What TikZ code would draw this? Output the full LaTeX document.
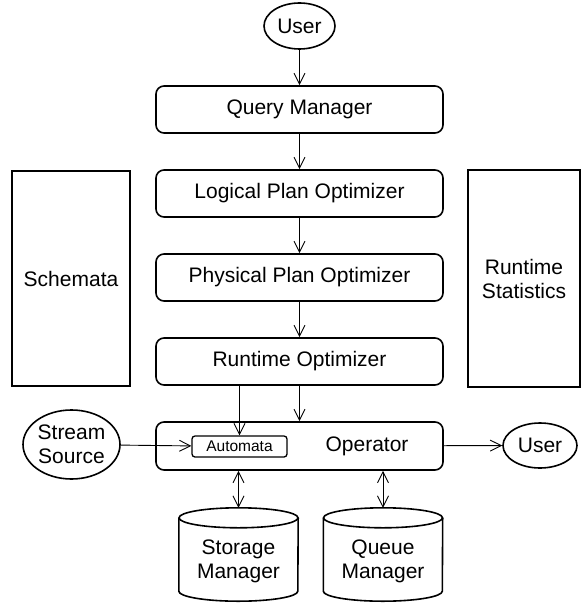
\documentclass[tikz,border=0pt]{standalone}
\usepackage{fontspec}
\setmainfont{Liberation Sans}
\usetikzlibrary{arrows.meta,shapes.geometric}

\tikzset{
  every node/.style={font=\fontsize{21}{24}\selectfont, align=center},
  stage/.style={draw, line width=1.6pt, rounded corners=8pt, minimum width=287pt, inner sep=0pt},
  store/.style={draw, line width=1.6pt, inner sep=0pt},
  actor/.style={draw, ellipse, line width=1.6pt, inner sep=0pt},
  cylarea/.style={draw=none, inner sep=0pt, minimum width=119pt, minimum height=93pt},
  cylline/.style={line width=1.6pt},
  flow/.style={line width=0.9pt, -{Straight Barb[length=11pt,width=11pt,line width=0.9pt]}},
  dflow/.style={line width=0.9pt, {Straight Barb[length=11pt,width=11pt,line width=0.9pt]}-{Straight Barb[length=11pt,width=11pt,line width=0.9pt]}},
}

\begin{document}
\begin{tikzpicture}[x=1pt, y=-1pt]
  \useasboundingbox (0,0) rectangle (581,604);

  % user input and the optimizer pipeline
  \node[actor, minimum width=71pt, minimum height=46pt] (user) at (299.5,26) {User};
  \node[stage, minimum height=47pt] (qm) at (299.5,109.5) {Query Manager};
  \node[stage, minimum height=47pt] (lpo) at (299.5,193.5) {Logical Plan Optimizer};
  \node[stage, minimum height=47pt] (ppo) at (299.5,277.5) {Physical Plan Optimizer};
  \node[stage, minimum height=47pt] (ro) at (299.5,361.5) {Runtime Optimizer};
  \node[stage, minimum height=48pt] (op) at (299.5,446) {\hspace*{135pt}Operator};
  \node[draw, line width=1.3pt, rounded corners=3pt, minimum width=95pt, minimum height=21pt, inner sep=0pt,
        font=\fontsize{15.5}{18}\selectfont] (auto) at (239.5,446.5) {Automata};

  % side stores
  \node[store, minimum width=118pt, minimum height=215pt] (sch) at (71,278.5) {Schemata};
  \node[store, minimum width=112pt, minimum height=217pt] (rst) at (524,278.5) {Runtime\\Statistics};

  % stream input and result output
  \node[actor, minimum width=97pt, minimum height=69pt] (src) at (71.5,444.5) {Stream\\Source};
  \node[actor, minimum width=74pt, minimum height=45pt] (out) at (540,445.5) {User};

  % storage cylinders
  \node[cylarea] (sm) at (238.5,554.5) {};
  \node[cylarea] (qu) at (383,554.5) {};
  \foreach \c in {sm,qu}{
    \draw[cylline] ([yshift=-10pt]\c.north west) -- ([yshift=10pt]\c.south west)
      arc[start angle=180, end angle=360, x radius=59.5pt, y radius=10pt]
      -- ([yshift=-10pt]\c.north east);
    \draw[cylline] ([yshift=-10pt]\c.north) ellipse[x radius=59.5pt, y radius=10pt];
  }
  \node (smt) at (238.5,561) {Storage\\Manager};
  \node (qut) at (383,561) {Queue\\Manager};

  % connectors
  \draw[flow] (user) -- (qm);
  \draw[flow] (qm) -- (lpo);
  \draw[flow] (lpo) -- (ppo);
  \draw[flow] (ppo) -- (ro);
  \draw[flow] (ro.south -| auto.north) -- (auto.north);
  \draw[flow] (ro) -- (op);
  \draw[flow] (src) -- (auto);
  \draw[flow] (op) -- (out);
  \draw[dflow] (op.south -| sm.north) -- (sm.north);
  \draw[dflow] (op.south -| qu.north) -- (qu.north);
\end{tikzpicture}
\end{document}
